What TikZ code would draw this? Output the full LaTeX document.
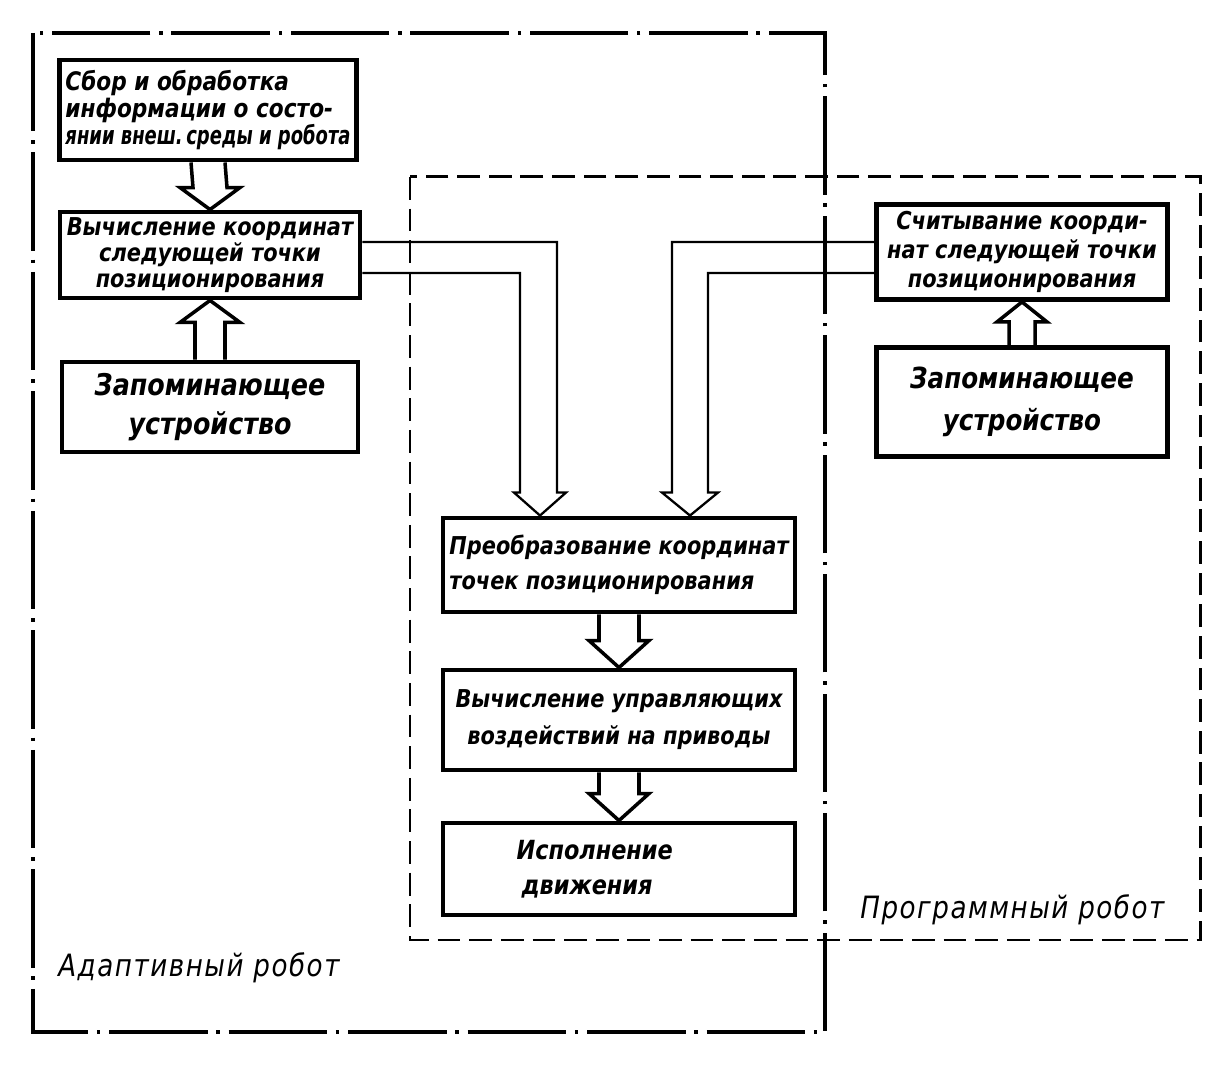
\documentclass[tikz,border=0pt]{standalone}
\usepackage{fontspec}
\usepackage{graphicx}
\setmainfont{DejaVu Sans}[FakeStretch=0.85]
\usetikzlibrary{calc}

\tikzset{
  box/.style={draw, line width=2.8pt, inner sep=2pt, font=\bfseries\itshape\fontsize{14}{15}\selectfont},
  hollow/.style={draw, line width=2pt, line join=miter},
  bent/.style={draw, line width=1.3pt, line join=miter},
  lbl/.style={font=\itshape\fontsize{17.5}{20}\selectfont\addfontfeature{LetterSpace=5}, inner sep=0pt},
}

\begin{document}
\begin{tikzpicture}[x=0.02cm, y=-0.02cm]
\useasboundingbox (0,0) rectangle (1225,1070);

% frames
\draw [line width=2pt, dash pattern=on 56pt off 5pt on 2pt off 5pt] (33,33) rectangle (825,1032);
\draw [line width=1.7pt, dash pattern=on 13pt off 5pt] (410,177) rectangle (1200,940);

% adaptive robot side
\node [box, minimum width=5.94cm, minimum height=2cm, align=left, inner sep=1pt,
  font=\bfseries\itshape\fontsize{14.5}{15.5}\selectfont] (A) at (208,110)
  {Сбор и обработка\\информации о состо-\\\scalebox{0.83}[1]{янии внеш.\,среды и робота}};
\node [box, minimum width=6cm, minimum height=1.72cm, align=center] (B) at (210,255)
  {Вычисление координат\\следующей точки\\позиционирования};
\node [box, minimum width=5.92cm, minimum height=1.8cm, align=center,
  font=\bfseries\itshape\fontsize{17}{22}\selectfont] (C) at (210,407)
  {Запоминающее\\устройство};

% programmed robot side
\node [box, minimum width=5.82cm, minimum height=1.9cm, align=center,
  font=\bfseries\itshape\fontsize{14}{16.5}\selectfont] (D) at (1022,252)
  {Считывание коорди-\\нат следующей точки\\позиционирования};
\node [box, minimum width=5.82cm, minimum height=2.18cm, align=center,
  font=\bfseries\itshape\fontsize{16.5}{24}\selectfont] (E) at (1022,402)
  {Запоминающее\\устройство};

% common chain
\node [box, minimum width=7.04cm, minimum height=1.88cm, align=left,
  font=\bfseries\itshape\fontsize{14}{20}\selectfont] (F) at (619,565)
  {Преобразование координат\\точек позиционирования};
\node [box, minimum width=7.04cm, minimum height=2cm, align=center,
  font=\bfseries\itshape\fontsize{14}{21}\selectfont] (G) at (619,720)
  {Вычисление управляющих\\воздействий на приводы};
\node [box, minimum width=7.04cm, minimum height=1.84cm, text width=6.7cm, align=left,
  font=\bfseries\itshape\fontsize{15}{20}\selectfont] (H) at (619,869)
  {\hspace*{1.3cm}Исполнение\\\hspace*{1.4cm}движения};

\node [lbl, anchor=west] (adapt) at (58,968) {Адаптивный робот};
\node [lbl, anchor=west] (prog) at (860,910) {Программный робот};

% short hollow arrows
\draw [hollow] ($(A.south)+(-17,0)$) -- ($(B.north)+(-17,-22)$) -- ($(B.north)+(-30,-22)$)
  -- (B.north) -- ($(B.north)+(30,-22)$) -- ($(B.north)+(17,-22)$) -- ($(A.south)+(17,0)$);
\draw [hollow] ($(C.north)+(-15,0)$) -- ($(B.south)+(-15,22)$) -- ($(B.south)+(-30,22)$)
  -- (B.south) -- ($(B.south)+(30,22)$) -- ($(B.south)+(15,22)$) -- ($(C.north)+(15,0)$);
\draw [hollow] ($(E.north)+(-13,0)$) -- ($(D.south)+(-13,20)$) -- ($(D.south)+(-25,20)$)
  -- (D.south) -- ($(D.south)+(25,20)$) -- ($(D.south)+(13,20)$) -- ($(E.north)+(13,0)$);
\draw [hollow] ($(F.south)+(-20,0)$) -- ($(G.north)+(-20,-27)$) -- ($(G.north)+(-30,-27)$)
  -- (G.north) -- ($(G.north)+(30,-27)$) -- ($(G.north)+(20,-27)$) -- ($(F.south)+(20,0)$);
\draw [hollow] ($(G.south)+(-20,0)$) -- ($(H.north)+(-20,-27)$) -- ($(H.north)+(-30,-27)$)
  -- (H.north) -- ($(H.north)+(30,-27)$) -- ($(H.north)+(20,-27)$) -- ($(G.south)+(20,0)$);

% bent hollow arrows into F
\coordinate (fl) at ($(F.north)+(-79,0)$);
\coordinate (fr) at ($(F.north)+(71,0)$);
\draw [bent] ($(B.east)+(0,-13)$) -| ($(fl)+(17,-23)$) -- ($(fl)+(26,-23)$) -- (fl)
  -- ($(fl)+(-26,-23)$) -- ($(fl)+(-20,-23)$) |- ($(B.east)+(0,18)$);
\draw [bent] ($(D.west)+(0,-10)$) -| ($(fr)+(-18,-23)$) -- ($(fr)+(-28,-23)$) -- (fr)
  -- ($(fr)+(28,-23)$) -- ($(fr)+(18,-23)$) |- ($(D.west)+(0,21)$);
\end{tikzpicture}
\end{document}
